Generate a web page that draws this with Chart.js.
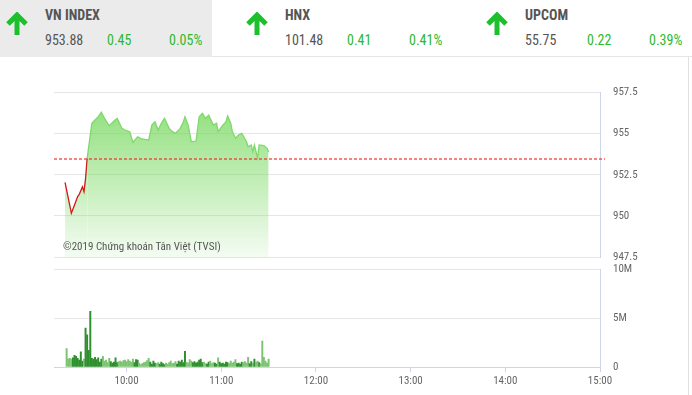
<!DOCTYPE html>
<html>
<head>
<meta charset="utf-8">
<script src="https://cdn.jsdelivr.net/npm/chart.js@4.4.1/dist/chart.umd.min.js"></script>
<style>
  body { margin: 0; width: 692px; height: 395px; overflow: hidden; background: #fff;
         font-family: 'Liberation Sans Narrow', 'Roboto Condensed', Roboto, sans-serif; }
  .box { position: absolute; top: 0; height: 57px; }
  .arrow { position: absolute; top: 12px; }
  .name { position: absolute; top: 8px; font-size: 14px; line-height: 14px; font-weight: bold; color: #555; }
  .num { position: absolute; top: 33px; font-size: 14px; line-height: 14px; color: #555; }
  .up { color: #2eb82e; }
  #wm { position: absolute; left: 63px; top: 241px; font-size: 11px; line-height: 11px; color: #555; }
  .wrap { position: absolute; left: 0; }
</style>
</head>
<body>
<div class="box" style="left:0;width:212px;background:#ebebeb;"></div>
<div style="position:absolute;left:212px;top:56px;width:480px;height:1px;background:#e6e6e6;"></div>
<div style="position:absolute;left:688px;top:57px;width:1px;height:338px;background:#e0e0e0;"></div>

<svg class="arrow" style="left:5px" width="24" height="24"><path d="M3 12 L12 3 L21 12 M12 4 V23" stroke="#1cbf2c" stroke-width="5" fill="none"/></svg>
<div class="name" style="left:45px">VN INDEX</div>
<div class="num" style="left:45px">953.88</div>
<div class="num up" style="left:107px">0.45</div>
<div class="num up" style="left:169px">0.05%</div>

<svg class="arrow" style="left:245px" width="24" height="24"><path d="M3 12 L12 3 L21 12 M12 4 V23" stroke="#1cbf2c" stroke-width="5" fill="none"/></svg>
<div class="name" style="left:285px">HNX</div>
<div class="num" style="left:285px">101.48</div>
<div class="num up" style="left:347px">0.41</div>
<div class="num up" style="left:409px">0.41%</div>

<svg class="arrow" style="left:485px" width="24" height="24"><path d="M3 12 L12 3 L21 12 M12 4 V23" stroke="#1cbf2c" stroke-width="5" fill="none"/></svg>
<div class="name" style="left:525px">UPCOM</div>
<div class="num" style="left:525px">55.75</div>
<div class="num up" style="left:587px">0.22</div>
<div class="num up" style="left:649px">0.39%</div>

<div class="wrap" style="top:60px"><canvas id="price" width="690" height="205"></canvas></div>
<div class="wrap" style="top:262px"><canvas id="volume" width="690" height="133"></canvas></div>
<div id="wm">©2019 Chứng khoán Tân Việt (TVSI)</div>

<script>
const refPrice = 953.43;

const priceTimes = [
  "9:21", "9:25", "9:27", "9:29", "9:30", "9:32", "9:33", "9:34", "9:35", "9:37",
  "9:38", "9:40", "9:42", "9:44", "9:46", "9:49", "9:52", "9:54", "9:57", "9:59",
  "10:02", "10:04", "10:07", "10:09", "10:14", "10:16", "10:18", "10:20", "10:22", "10:24",
  "10:27", "10:29", "10:31", "10:34", "10:36", "10:37", "10:39", "10:41", "10:44", "10:46",
  "10:48", "10:50", "10:52", "10:55", "10:57", "10:58", "11:01", "11:03", "11:04", "11:06",
  "11:07", "11:09", "11:11", "11:13", "11:16", "11:17", "11:19", "11:20", "11:21", "11:23",
  "11:24", "11:27", "11:29", "11:30"
];
const priceValues = [
  952.04, 950.16, 950.66, 951.17, 951.31, 951.77, 951.47, 952.28, 953.50, 954.92,
  955.63, 955.83, 956.03, 956.30, 955.93, 955.48, 955.77, 955.93, 955.32, 955.22,
  955.12, 954.47, 954.81, 954.70, 954.61, 955.52, 955.72, 955.22, 955.63, 955.93,
  955.32, 955.12, 955.02, 955.32, 955.72, 956.03, 955.52, 954.51, 954.55, 956.03,
  956.24, 955.93, 956.13, 955.52, 955.63, 955.12, 955.52, 955.72, 956.07, 955.63,
  955.12, 954.72, 954.92, 955.02, 954.51, 954.20, 954.31, 953.90, 954.31, 953.53,
  954.31, 954.27, 954.10, 953.88
];

// one bar per minute from volStart, in millions of shares
const volStart = "9:22";
const volumes = [
  1.9, 0.85, 0.9, 0.8, 0.95, 1.2, 1.1, 0.9, 0.7, 1.55,
  0.6, 0.8, 4.0, 3.3, 1.7, 5.7, 0.9, 0.8, 1.0, 0.75,
  0.95, 0.5, 0.8, 1.1, 0.6, 0.7, 0.45, 0.9, 0.55, 0.4,
  0.5, 0.95, 0.45, 0.55, 0.6, 0.5, 0.65, 0.7, 0.55, 0.75,
  0.6, 0.5, 0.8, 0.45, 0.75, 0.7, 0.4, 0.25, 0.35, 0.45,
  0.5, 0.65, 0.9, 0.5, 0.3, 0.6, 0.4, 0.35, 0.45, 0.3,
  0.5, 0.35, 0.25, 0.4, 0.3, 0.45, 0.6, 0.35, 0.4, 0.55,
  0.3, 0.6, 0.5, 0.7, 0.45, 1.6, 0.5, 0.4, 0.75, 0.6,
  0.45, 0.55, 0.4, 0.5, 0.7, 0.8, 0.45, 0.5, 0.35, 0.3,
  0.5, 0.6, 0.35, 0.45, 0.4, 0.3, 0.95, 0.5, 0.35, 0.4,
  0.3, 0.5, 0.45, 0.35, 0.6, 0.4, 0.5, 0.75, 0.35, 0.4,
  0.3, 0.5, 0.45, 0.55, 0.4, 1.0, 0.35, 0.55, 0.4, 0.8,
  0.5, 0.6, 0.45, 0.35, 2.65, 1.0, 0.6, 0.4, 0.8
];

const xMin = "9:14";
const xMax = "15:00";
const timeTicks = ["10:00", "11:00", "12:00", "13:00", "14:00", "15:00"];
const priceTicks = [947.5, 950, 952.5, 955, 957.5];
const volumeTicks = [0, 5, 10];

function toMin(s) {
  const [h, m] = s.split(":").map(Number);
  return h * 60 + m;
}

function fmtTime(m) {
  return Math.floor(m / 60) + ":" + String(m % 60).padStart(2, "0");
}

function priceAt(t) {
  for (let i = 1; i < priceTimes.length; i++) {
    const t0 = toMin(priceTimes[i - 1]);
    const t1 = toMin(priceTimes[i]);
    if (t <= t1) {
      const k = Math.max(0, (t - t0) / (t1 - t0));
      return priceValues[i - 1] + k * (priceValues[i] - priceValues[i - 1]);
    }
  }
  return priceValues[priceValues.length - 1];
}

const FONT = { family: "'Liberation Sans Narrow', 'Roboto Condensed', Roboto, sans-serif", size: 11 };
const GRID = "#e6e6e6";
const AXIS = "#ccd6eb";
const RED = "#d21a1a";
const GREEN_LINE = "#7fd86c";

const pricePoints = priceTimes.map((t, i) => ({ x: toMin(t), y: priceValues[i] }));
const volPoints = volumes.map((v, i) => ({ x: toMin(volStart) + i, y: v }));
const volColors = volPoints.map(p => priceAt(p.x) >= priceAt(p.x - 1) ? "#2f8f2f" : "#7cc472");

const refLine = {
  id: "refLine",
  afterDatasetsDraw(chart) {
    const { ctx, chartArea } = chart;
    const y = Math.round(chart.scales.y.getPixelForValue(refPrice));
    ctx.save();
    ctx.strokeStyle = "rgba(232,50,46,0.8)";
    ctx.lineWidth = 1.6;
    ctx.setLineDash([3, 2]);
    ctx.beginPath();
    ctx.moveTo(chartArea.left, y);
    ctx.lineTo(chartArea.right + 5, y);
    ctx.stroke();
    ctx.restore();
  }
};

function fixTicks(list) {
  return scale => { scale.ticks = list.map(v => ({ value: v })); };
}

// right axis: labels pushed out with an invisible tick instead of ticks.padding,
// so the label padding does not grow the layout overflow
function rightAxis(list, extra) {
  return Object.assign({
    position: "right",
    min: list[0],
    max: list[list.length - 1],
    afterBuildTicks: fixTicks(list),
    afterFit: s => { s.width = 90; },
    grid: { color: GRID, drawTicks: true, tickLength: 13, tickColor: "rgba(0,0,0,0)" },
    border: { color: AXIS }
  }, extra);
}

new Chart(document.getElementById("price"), {
  type: "line",
  data: {
    datasets: [{
      data: pricePoints,
      borderWidth: 1.3,
      pointRadius: 0,
      fill: "start",
      backgroundColor: ctx => {
        const area = ctx.chart.chartArea;
        if (!area) return "rgba(120,215,95,0.4)";
        const g = ctx.chart.ctx.createLinearGradient(0, area.top, 0, area.bottom);
        g.addColorStop(0, "rgba(115,215,90,0.85)");
        g.addColorStop(1, "rgba(115,215,90,0.08)");
        return g;
      },
      segment: {
        borderColor: s => (s.p0.parsed.y < refPrice && s.p1.parsed.y <= refPrice + 0.1) ? RED : GREEN_LINE
      }
    }]
  },
  options: {
    responsive: false,
    animation: false,
    devicePixelRatio: 1,
    layout: { padding: { left: 54, top: 32.5, bottom: 8, right: 0 } },
    plugins: { legend: { display: false }, tooltip: { enabled: false } },
    scales: {
      x: { type: "linear", min: toMin(xMin), max: toMin(xMax), display: false },
      y: rightAxis(priceTicks, { ticks: { color: "#666", font: FONT, padding: 0 } })
    }
  },
  plugins: [refLine]
});

new Chart(document.getElementById("volume"), {
  type: "bar",
  data: {
    datasets: [{
      data: volPoints,
      backgroundColor: volColors,
      barThickness: 1.3
    }]
  },
  options: {
    responsive: false,
    animation: false,
    devicePixelRatio: 1,
    layout: { padding: { left: 54, top: 7.5, bottom: 0, right: 0 } },
    plugins: { legend: { display: false }, tooltip: { enabled: false } },
    scales: {
      x: {
        type: "linear",
        offset: false,
        min: toMin(xMin),
        max: toMin(xMax),
        afterBuildTicks: fixTicks(timeTicks.map(toMin)),
        afterFit: s => { s.height = 28; },
        ticks: { color: "#666", font: FONT, padding: 3, maxRotation: 0, autoSkip: false, callback: v => fmtTime(v) },
        grid: { offset: false, drawOnChartArea: false, drawTicks: true, tickLength: 5, color: AXIS },
        border: { color: AXIS }
      },
      y: rightAxis(volumeTicks, {
        ticks: { color: "#666", font: FONT, padding: 0, callback: v => v === 0 ? "0" : v + "M" }
      })
    }
  }
});
</script>
</body>
</html>
